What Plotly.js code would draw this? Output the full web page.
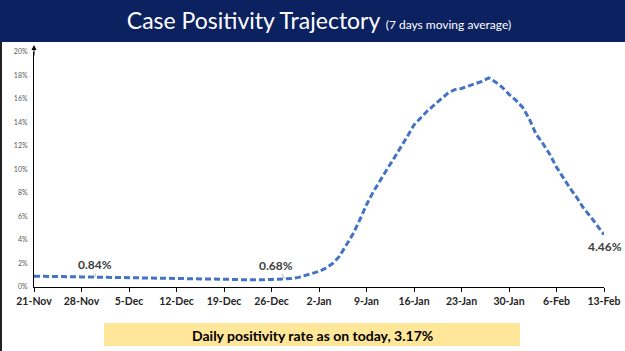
<!DOCTYPE html>
<html>
<head>
<meta charset="utf-8">
<script src="https://cdn.plot.ly/plotly-3.0.1.min.js"></script>
<style>
html,body{margin:0;padding:0;background:#fff;}
#chart{width:625px;height:351px;}
</style>
</head>
<body>
<div id="chart"></div>
<script>
// Dates (daily, 21-Nov-2021 .. 13-Feb-2022) and 7-day moving average positivity (%)
const startDate = '2021-11-21';
const endDate = '2022-02-13';
const positivity = [
  0.92, 0.92, 0.93, 0.92, 0.90, 0.88, 0.87,
  0.86, 0.85, 0.84, 0.86, 0.87, 0.85, 0.83,
  0.81, 0.80, 0.79, 0.79, 0.78, 0.77, 0.76,
  0.76, 0.75, 0.74, 0.73, 0.72, 0.71, 0.70,
  0.69, 0.67, 0.64, 0.61, 0.60, 0.61, 0.62,
  0.64, 0.66, 0.68, 0.72, 0.82, 0.98, 1.15,
  1.33, 1.60, 2.00, 2.60, 3.50, 4.50, 5.70,
  7.00, 8.10, 9.10, 10.0, 10.9, 11.8, 12.8,
  13.8, 14.4, 15.0, 15.5, 16.0, 16.5, 16.8,
  16.9, 17.1, 17.3, 17.5, 17.8, 17.45, 17.0,
  16.4, 15.9, 15.3, 14.3, 13.0, 12.2, 11.3,
  10.2, 9.25, 8.4, 7.6, 6.7, 6.0, 5.2,
  4.46
];
const yTickVals = [0, 2, 4, 6, 8, 10, 12, 14, 16, 18, 20];
const yTickText = ['0%', '2%', '4%', '6%', '8%', '10%', '12%', '14%', '16%', '18%', '20%'];
const callouts = [
  {date: '2021-11-30', value: 0.84, label: '0.84%'},
  {date: '2021-12-28', value: 0.68, label: '0.68%'},
  {date: '2022-02-13', value: 4.46, label: '4.46%'}
];
const titleMain = 'Case Positivity Trajectory';
const titleSub = '(7 days moving average)';
const footerText = 'Daily positivity rate as on today, 3.17%';

// build daily date list
const dates = [];
{
  const d0 = new Date(startDate + 'T00:00:00Z');
  for (let i = 0; i < positivity.length; i++) {
    const d = new Date(d0.getTime() + i * 86400000);
    dates.push(d.toISOString().slice(0, 10));
  }
}

const W = 625, H = 351;
const M = {l: 34, r: 21, t: 52, b: 64};
const PW = W - M.l - M.r, PH = H - M.t - M.b;
const px = x => (x - M.l) / PW;
const py = y => (H - M.b - y) / PH;

const trace = {
  x: dates, y: positivity, type: 'scatter', mode: 'lines',
  line: {color: '#4472C4', width: 3, dash: '6px,3px'},
  hoverinfo: 'skip'
};

const annFont = {family: 'Lato, "Open Sans", sans-serif', size: 12, color: '#404040', weight: 'bold'};
const annotations = [
  {x: callouts[0].date, y: callouts[0].value, text: '<b>' + callouts[0].label + '</b>', showarrow: true,
   arrowhead: 0, arrowwidth: 0.8, arrowcolor: '#a6a6a6', ax: 0, ay: -13, font: annFont},
  {x: callouts[1].date, y: callouts[1].value, text: '<b>' + callouts[1].label + '</b>', showarrow: true,
   arrowhead: 0, arrowwidth: 0.8, arrowcolor: '#a6a6a6', ax: -9, ay: -14, font: annFont},
  {x: callouts[2].date, y: callouts[2].value, text: '<b>' + callouts[2].label + '</b>', showarrow: false,
   xanchor: 'center', yanchor: 'middle', yshift: -12, xshift: 1, font: annFont},
  // y-axis arrow head
  {xref: 'paper', yref: 'paper', x: 0, y: 1.03, ax: 0, ay: 12, axref: 'pixel', ayref: 'pixel',
   showarrow: true, arrowhead: 2, arrowsize: 1, arrowwidth: 1, arrowcolor: '#000', text: ''},
  // footer text
  {xref: 'paper', yref: 'paper', x: px(312), y: py(335), text: '<b>' + footerText + '</b>', showarrow: false,
   xanchor: 'center', yanchor: 'middle',
   font: {family: 'Lato, "Open Sans", sans-serif', size: 14, color: '#000'}}
];

const shapes = [
  // navy banner
  {type: 'rect', xref: 'paper', yref: 'paper', x0: px(-2), x1: px(627), y0: py(42), y1: py(-2),
   fillcolor: '#0c2160', line: {width: 0}, layer: 'below'},
  // left border
  {type: 'line', xref: 'paper', yref: 'paper', x0: px(1), x1: px(1), y0: py(42), y1: py(352),
   line: {color: '#222', width: 2}},
  // footer box
  {type: 'rect', xref: 'paper', yref: 'paper', x0: px(104), x1: px(520), y0: py(346), y1: py(323),
   fillcolor: '#FFE699', line: {width: 0}, layer: 'below'}
];

const layout = {
  width: W, height: H,
  margin: M,
  paper_bgcolor: '#fff', plot_bgcolor: '#fff',
  showlegend: false,
  title: {
    text: titleMain + ' <span style="font-size:12px">' + titleSub + '</span>',
    x: 0.5, xanchor: 'center', xref: 'paper',
    y: 1 - 21 / H, yanchor: 'middle', yref: 'container',
    font: {family: 'Lato, "Noto Sans", sans-serif', size: 23, color: '#ffffff'}
  },
  xaxis: {
    type: 'date',
    range: [startDate, endDate],
    tick0: startDate, dtick: 7 * 86400000,
    tickformat: '%-d-%b',
    showgrid: false, zeroline: false,
    showline: true, linecolor: '#000', linewidth: 1,
    ticks: 'outside', ticklen: 4, tickcolor: '#000', tickwidth: 1,
    tickfont: {family: 'Lato, "Open Sans", sans-serif', size: 10.5, color: '#262626', weight: 'bold'},
    fixedrange: true
  },
  yaxis: {
    range: [0, 20],
    tickvals: yTickVals, ticktext: yTickText,
    showgrid: false, zeroline: false,
    showline: true, linecolor: '#000', linewidth: 1,
    ticks: '', ticklabelstandoff: 4,
    tickfont: {family: 'Lato, "Open Sans", sans-serif', size: 7, color: '#595959'},
    fixedrange: true
  },
  annotations: annotations,
  shapes: shapes
};

Plotly.newPlot('chart', [trace], layout, {displayModeBar: false, staticPlot: true});
</script>
</body>
</html>
